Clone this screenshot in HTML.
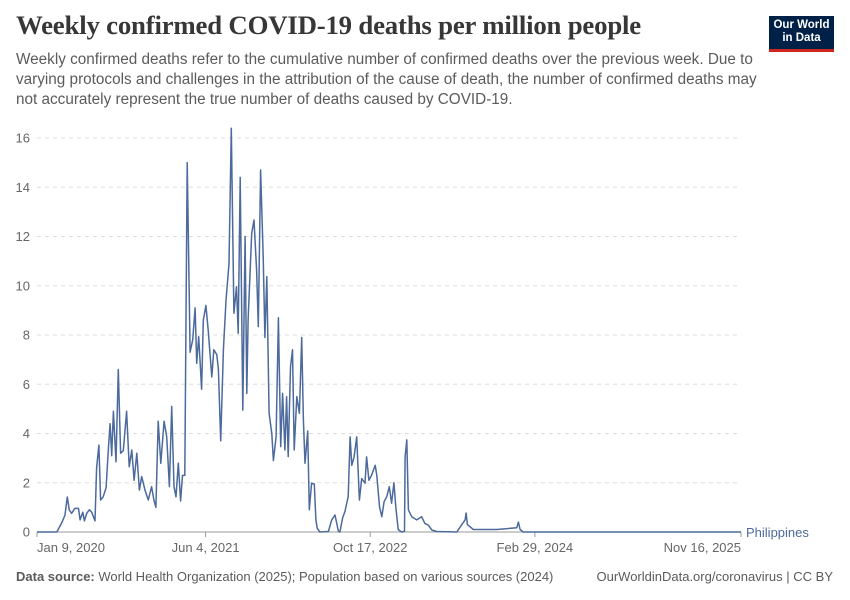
<!DOCTYPE html>
<html><head><meta charset="utf-8">
<style>
body{margin:0;width:850px;height:600px;background:#fff;font-family:"Liberation Sans",sans-serif;position:relative;overflow:hidden}
.t{position:absolute}
</style></head><body>
<div class="t" style="left:16px;top:10px;font-family:'Liberation Serif',serif;font-weight:bold;font-size:26.8px;color:#373737;letter-spacing:-0.2px">Weekly confirmed COVID-19 deaths per million people</div>
<div class="t" style="left:16px;top:50px;white-space:nowrap;font-size:15.3px;line-height:20px;color:#5b5b5b">Weekly confirmed deaths refer to the cumulative number of confirmed deaths over the previous week. Due to<br>varying protocols and challenges in the attribution of the cause of death, the number of confirmed deaths may<br>not accurately represent the true number of deaths caused by COVID-19.</div>
<div class="t" style="left:769px;top:16px;width:65px;background:#002147;border-bottom:3px solid #ce261e;color:#fff;font-size:11.5px;font-weight:bold;text-align:center;line-height:13px;padding-top:3px;height:30px">Our World<br>in Data</div>
<svg class="t" style="left:0;top:0" width="850" height="600">
<g id="grid"></g><g id="yt"></g><g id="xt"></g>
<path id="line" fill="none" stroke="#4c6a9c" stroke-width="1.5" stroke-linejoin="round"/>
<text x="746" y="537" font-size="13" fill="#4c6a9c">Philippines</text>
</svg>
<div class="t" style="left:16px;top:569px;font-size:13px;color:#5b5b5b"><b>Data source:</b> World Health Organization (2025); Population based on various sources (2024)</div>
<div class="t" style="right:17px;top:569px;font-size:13px;color:#5b5b5b">OurWorldinData.org/coronavirus | CC BY</div>
<script>
const days=[0,60,75,85,92,98,105,115,126,131,139,144,151,159,166,176,181,188,193,201,210,217,222,227,232,240,247,254,262,272,280,288,295,303,311,318,328,338,348,355,361,368,376,386,394,402,409,416,422,429,436,442,449,456,459,465,473,480,485,491,500,505,513,520,531,537,546,551,558,566,574,583,590,598,606,611,617,625,632,637,641,652,659,667,672,679,687,692,698,705,713,718,726,733,740,746,753,758,763,770,776,781,789,797,804,809,814,822,827,834,842,847,851,859,885,895,905,915,920,928,935,945,951,956,963,971,979,986,996,1001,1008,1016,1027,1032,1040,1047,1054,1062,1070,1077,1084,1090,1097,1107,1116,1118,1123,1128,1138,1153,1168,1178,1188,1199,1214,1275,1290,1300,1303,1307,1325,1396,1457,1462,1467,1477,2138];
const values=[0,0,0.37,0.69,1.42,0.89,0.76,0.96,0.96,0.49,0.8,0.45,0.76,0.9,0.8,0.45,2.6,3.53,1.3,1.43,1.8,3.45,4.4,3.1,4.9,2.85,6.6,3.2,3.3,4.9,2.65,3.33,2.1,3.2,1.7,2.25,1.7,1.3,1.84,1.3,1.0,4.5,2.79,4.5,3.87,1.84,5.1,1.84,1.43,2.8,1.26,2.3,2.3,15.0,12.67,7.3,7.8,9.1,6.85,7.93,5.8,8.6,9.2,8.2,6.3,7.4,7.2,6.6,3.7,7.4,9.4,10.9,16.4,8.88,9.96,8.07,14.4,4.95,12.0,5.63,8.6,12.13,12.67,10.64,8.34,14.7,11.18,7.9,10.37,4.82,4.0,2.9,3.87,8.7,3.47,5.63,3.33,5.49,3.06,6.71,7.4,3.33,5.5,4.82,7.9,4.55,2.79,4.1,0.9,1.98,1.95,0.49,0.15,0,0.02,0.49,0.69,0.05,0,0.57,0.83,1.44,3.86,2.71,3.05,3.86,1.3,2.17,1.98,3.05,2.1,2.3,2.71,2.3,1.03,0.62,1.23,1.43,1.84,1.17,2.0,0.97,0.1,0,0.03,3.05,3.74,0.9,0.62,0.49,0.62,0.35,0.28,0.08,0.02,0,0.3,0.49,0.77,0.3,0.1,0.1,0.17,0.4,0.1,0,0];
const yTicks=[0,2,4,6,8,10,12,14,16];
const xTickDays=[0,512,1012,1512,2138];
const xTickLabels=["Jan 9, 2020","Jun 4, 2021","Oct 17, 2022","Feb 29, 2024","Nov 16, 2025"];
const X0=37,X1=741,Y0=532,YPU=24.625,DMAX=2138;
const xs=d=>X0+d*(X1-X0)/DMAX, ys=v=>Y0-v*YPU;
const NS="http://www.w3.org/2000/svg";
const g=document.getElementById('grid'),yt=document.getElementById('yt'),xt=document.getElementById('xt');
yTicks.forEach(v=>{
  const l=document.createElementNS(NS,'line');
  l.setAttribute('x1',X0);l.setAttribute('x2',X1);l.setAttribute('y1',ys(v));l.setAttribute('y2',ys(v));
  l.setAttribute('stroke',v===0?'#999':'#ddd');if(v!==0)l.setAttribute('stroke-dasharray','4,4');
  
  
  g.appendChild(l);
  const t=document.createElementNS(NS,'text');
  t.setAttribute('x',30);t.setAttribute('y',ys(v)+4.5);t.setAttribute('text-anchor','end');
  t.setAttribute('font-size','13');t.setAttribute('fill','#666');t.textContent=v;
  
  
  yt.appendChild(t);
});
xTickDays.forEach((d,i)=>{
  const l=document.createElementNS(NS,'line');
  l.setAttribute('x1',xs(d));l.setAttribute('x2',xs(d));l.setAttribute('y1',Y0);l.setAttribute('y2',Y0+5);l.setAttribute('stroke','#999');
  
  
  xt.appendChild(l);
  const t=document.createElementNS(NS,'text');
  const anchor=i===0?'start':(i===xTickDays.length-1?'end':'middle');
  t.setAttribute('x',xs(d));t.setAttribute('y',552);t.setAttribute('text-anchor',anchor);
  t.setAttribute('font-size','13');t.setAttribute('fill','#666');t.textContent=xTickLabels[i];
  
  
  xt.appendChild(t);
});
document.getElementById('line').setAttribute('d',days.map((d,i)=>(i?'L':'M')+xs(d).toFixed(1)+','+ys(values[i]).toFixed(1)).join(''));
</script>
</body></html>
